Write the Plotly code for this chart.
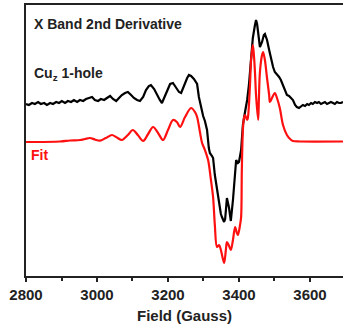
import plotly.graph_objects as go

# Field (Gauss) and intensity (arb. units) for the measured spectrum (black)
field_exp = [2800, 2808, 2817, 2825, 2834, 2842, 2851, 2859, 2868, 2876, 2885, 2893, 2901, 2910,
             2918, 2927, 2935, 2944, 2952, 2961, 2969, 2977, 2986, 2994, 3003, 3011, 3020, 3028,
             3037, 3045, 3054, 3062, 3070, 3079, 3087, 3096, 3104, 3113, 3121, 3130, 3138, 3146,
             3152, 3161, 3169, 3177, 3183, 3192, 3200, 3206, 3214, 3223, 3231, 3237, 3245, 3254,
             3259, 3265, 3273, 3282, 3287, 3293, 3299, 3304, 3310, 3315, 3318, 3324, 3327, 3332,
             3338, 3344, 3349, 3352, 3358, 3361, 3366, 3372, 3377, 3383, 3389, 3392, 3397, 3400,
             3406, 3408, 3411, 3417, 3423, 3428, 3431, 3437, 3439, 3445, 3448, 3451, 3456, 3459,
             3465, 3470, 3473, 3479, 3485, 3490, 3496, 3501, 3507, 3513, 3518, 3524, 3530, 3535,
             3541, 3546, 3552, 3558, 3563, 3569, 3575, 3580, 3586, 3592, 3597, 3603, 3608, 3614,
             3620, 3625, 3631, 3637, 3642, 3648, 3654, 3659, 3665, 3670, 3676, 3682, 3687, 3693]
signal_exp = [172, 171, 173, 172, 174, 172, 173, 171, 173, 172, 174, 173, 175, 173,
              175, 174, 176, 174, 176, 175, 177, 178, 179, 176, 175, 177, 176, 178,
              180, 177, 175, 178, 181, 183, 184, 181, 178, 176, 175, 179, 186, 190,
              191, 187, 181, 176, 173, 180, 188, 192, 193, 188, 184, 183, 191, 198,
              201, 200, 197, 192, 179, 168, 160, 155, 146, 128, 123, 120, 118, 101,
              86, 72, 62, 59, 54, 57, 78, 68, 55, 76, 108, 116, 113, 114,
              126, 141, 151, 164, 176, 191, 204, 226, 238, 251, 256, 252, 236, 229,
              234, 241, 242, 236, 226, 218, 209, 204, 202, 199, 196, 190, 184, 181,
              180, 178, 176, 171, 169, 168, 170, 171, 170, 172, 171, 173, 172, 174,
              173, 174, 172, 173, 174, 172, 173, 174, 173, 172, 174, 173, 173, 174]

# Simulated fit (red)
field_fit = [2800, 2896, 2924, 2952, 2966, 2980, 2994, 3008, 3025, 3042, 3056, 3070, 3087, 3101,
             3115, 3130, 3144, 3158, 3172, 3186, 3200, 3214, 3225, 3234, 3248, 3265, 3276, 3282,
             3290, 3296, 3304, 3313, 3321, 3327, 3332, 3338, 3344, 3349, 3358, 3363, 3366, 3372,
             3377, 3383, 3389, 3394, 3397, 3403, 3406, 3408, 3411, 3414, 3417, 3423, 3425, 3431,
             3434, 3439, 3442, 3445, 3448, 3454, 3456, 3459, 3465, 3468, 3473, 3479, 3485, 3487,
             3493, 3501, 3507, 3515, 3524, 3535, 3544, 3552, 3572, 3693]
signal_fit = [134, 134.5, 135.5, 136, 137, 138, 136.5, 135.3, 138, 141, 138.5, 136, 141, 146,
              141, 135, 142, 149, 143, 136, 146, 156, 154, 149, 159, 168, 164, 159,
              144, 133, 126, 116, 96, 79, 51, 29, 31, 26, 13, 26, 34, 30,
              26, 36, 49, 43, 41, 51, 59, 106, 146, 158, 161, 156, 158, 191,
              216, 231, 221, 204, 181, 156, 176, 204, 221, 224, 216, 198, 181, 174,
              178, 183, 178, 168, 151, 141, 137, 135, 134.5, 134.5]

x_ticks = [2800, 3000, 3200, 3400, 3600]

fig = go.Figure()
fig.add_trace(go.Scatter(x=field_exp, y=signal_exp, mode="lines",
                         line=dict(color="#000000", width=2.2), showlegend=False))
fig.add_trace(go.Scatter(x=field_fit, y=signal_fit, mode="lines",
                         line=dict(color="#ff1010", width=2.2, shape="spline", smoothing=0.9),
                         showlegend=False))

font_b = "Liberation Sans"
fig.update_layout(
    width=343, height=335,
    margin=dict(l=26, r=0, t=5, b=59),
    paper_bgcolor="white", plot_bgcolor="white",
    xaxis=dict(range=[2800, 3693], tickvals=x_ticks, ticktext=[str(v) for v in x_ticks],
               showline=True, linecolor="#222", linewidth=2, mirror=True,
               ticks="outside", ticklen=4, tickwidth=2, tickcolor="#222",
               minor=dict(dtick=100, tick0=2800, ticks="outside", ticklen=3, tickwidth=2, tickcolor="#222"),
               showgrid=False, zeroline=False,
               tickfont=dict(family=font_b, size=15, color="#222", weight="bold"),
               title=dict(text="Field (Gauss)", standoff=8,
                          font=dict(family=font_b, size=15, color="#222", weight="bold"))),
    yaxis=dict(range=[0, 271], showline=True, linecolor="#222", linewidth=2,
               showticklabels=False, ticks="", showgrid=False, zeroline=False),
    annotations=[
        dict(text="X Band 2nd Derivative", x=0.019, y=0.93, xref="paper", yref="paper",
             xanchor="left", yanchor="middle", showarrow=False,
             font=dict(family=font_b, size=14, color="#222", weight="bold")),
        dict(text="Cu<sub>z</sub> 1-hole", x=0.019, y=0.745, xref="paper", yref="paper",
             xanchor="left", yanchor="middle", showarrow=False,
             font=dict(family=font_b, size=14, color="#222", weight="bold")),
        dict(text="Fit", x=0.009, y=0.446, xref="paper", yref="paper",
             xanchor="left", yanchor="middle", showarrow=False,
             font=dict(family=font_b, size=14, color="#ff1010", weight="bold")),
    ],
)
fig.write_html("out.html")
